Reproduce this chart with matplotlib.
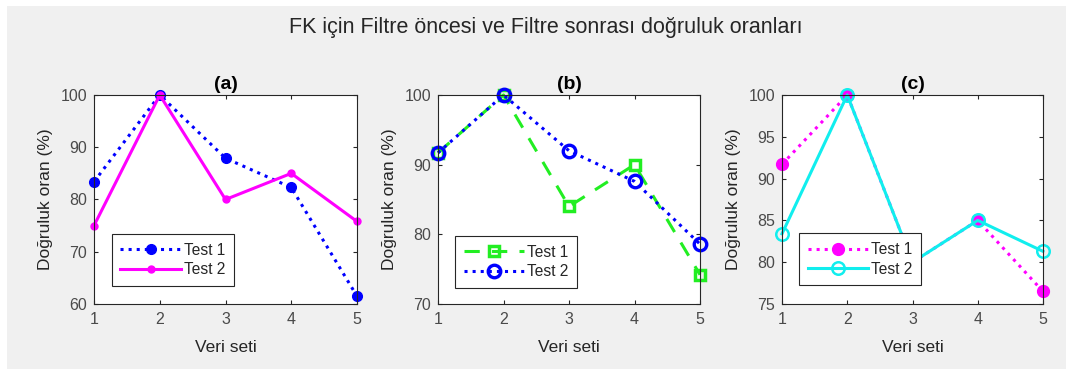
import matplotlib
matplotlib.use("Agg")
import matplotlib.pyplot as plt
from matplotlib.patches import Rectangle

plt.rcParams.update({
    "font.family": ["Liberation Sans", "DejaVu Sans"],
    "font.size": 11.5,
    "axes.edgecolor": "#262626",
    "axes.linewidth": 0.8,
    "xtick.direction": "in",
    "ytick.direction": "in",
    "xtick.top": True,
    "ytick.right": True,
    "xtick.color": "#262626",
    "ytick.color": "#262626",
    "xtick.labelcolor": "#4a4a4a",
    "ytick.labelcolor": "#4a4a4a",
    "xtick.labelsize": 11.5,
    "ytick.labelsize": 11.5,
    "xtick.major.size": 3,
    "ytick.major.size": 3,
    "xtick.major.pad": 6,
    "ytick.major.pad": 5,
})

veri_seti = [1, 2, 3, 4, 5]

# (a)
a_test1 = [83.4, 100, 87.9, 82.3, 61.5]
a_test2 = [75.0, 100, 80.0, 85.0, 75.8]
# (b)
b_test1 = [91.7, 100, 84.0, 90.0, 74.2]
b_test2 = [91.7, 100, 92.0, 87.6, 78.6]
# (c)
c_test1 = [91.7, 100, 80.0, 85.0, 76.5]
c_test2 = [83.4, 100, 80.0, 85.0, 81.3]

W, H = 1066, 369
fig = plt.figure(figsize=(W / 100, H / 100), dpi=100)
fig.patch.set_facecolor("white")
fig.patches.append(Rectangle((7 / W, 0), 1, 1 - 6 / H, transform=fig.transFigure,
                             facecolor="#f0f0f0", edgecolor="none", zorder=-10))

boxes = [(94, 263), (438, 262), (782, 261)]
bottom, height = 1 - 304 / H, 209 / H
axes = [fig.add_axes([l / W, bottom, w / W, height]) for l, w in boxes]

blue = "#0000ff"
mag = "#ff00ff"
green = "#22ee22"
cyan = "#11eeee"

ax = axes[0]
ax.plot(veri_seti, a_test1, ":", color=blue, lw=2.2, marker="o", ms=7,
        mfc=blue, mec=blue, label="Test 1", clip_on=False)
ax.plot(veri_seti, a_test2, "-", color=mag, lw=2.2, marker="o", ms=5,
        mfc=mag, mec=mag, label="Test 2", clip_on=False)
ax.set_ylim(60, 100)
ax.set_yticks([60, 70, 80, 90, 100])
ax.set_title("(a)", fontweight="bold", fontsize=14, pad=4)

ax = axes[1]
ax.plot(veri_seti, b_test1, "--", color=green, lw=2.2, marker="s", ms=7.5,
        mfc="none", mec=green, mew=2.5, dashes=(5, 4), label="Test 1",
        clip_on=False)
ax.plot(veri_seti, b_test2, ":", color=blue, lw=2.2, marker="o", ms=9,
        mfc="none", mec=blue, mew=2.4, label="Test 2", clip_on=False)
ax.set_ylim(70, 100)
ax.set_yticks([70, 80, 90, 100])
ax.set_title("(b)", fontweight="bold", fontsize=14, pad=4)

ax = axes[2]
ax.plot(veri_seti, c_test1, ":", color=mag, lw=2.2, marker="o", ms=8.5,
        mfc=mag, mec=mag, label="Test 1", clip_on=False)
ax.plot(veri_seti, c_test2, "-", color=cyan, lw=2.2, marker="o", ms=9,
        mfc="none", mec=cyan, mew=1.8, label="Test 2", clip_on=False)
ax.set_ylim(75, 100)
ax.set_yticks([75, 80, 85, 90, 95, 100])
ax.set_title("(c)", fontweight="bold", fontsize=14, pad=4)

leg_pos = [(0.068, 0.086), (0.065, 0.077), (0.065, 0.09)]
for ax, pos in zip(axes, leg_pos):
    ax.set_xlim(1, 5)
    ax.set_xticks(veri_seti)
    ax.set_xlabel("Veri seti", color="#262626", fontsize=12.5, labelpad=9)
    ax.set_ylabel("Doğruluk oran (%)", color="#262626", fontsize=12.5,
                  labelpad=5)
    leg = ax.legend(loc="lower left", bbox_to_anchor=pos, borderaxespad=0,
                    fontsize=11.2, handlelength=3.9, handletextpad=0.2,
                    labelspacing=0.3, borderpad=0.55, fancybox=False,
                    framealpha=1, edgecolor="#262626")
    leg.get_frame().set_linewidth(0.8)
    for t in leg.get_texts():
        t.set_color("#262626")

fig.suptitle("FK için Filtre öncesi ve Filtre sonrası doğruluk oranları",
             x=546 / W, y=1 - 27 / H, va="center", fontsize=15.5,
             color="#262626")

fig.savefig("out.png", dpi=100)
